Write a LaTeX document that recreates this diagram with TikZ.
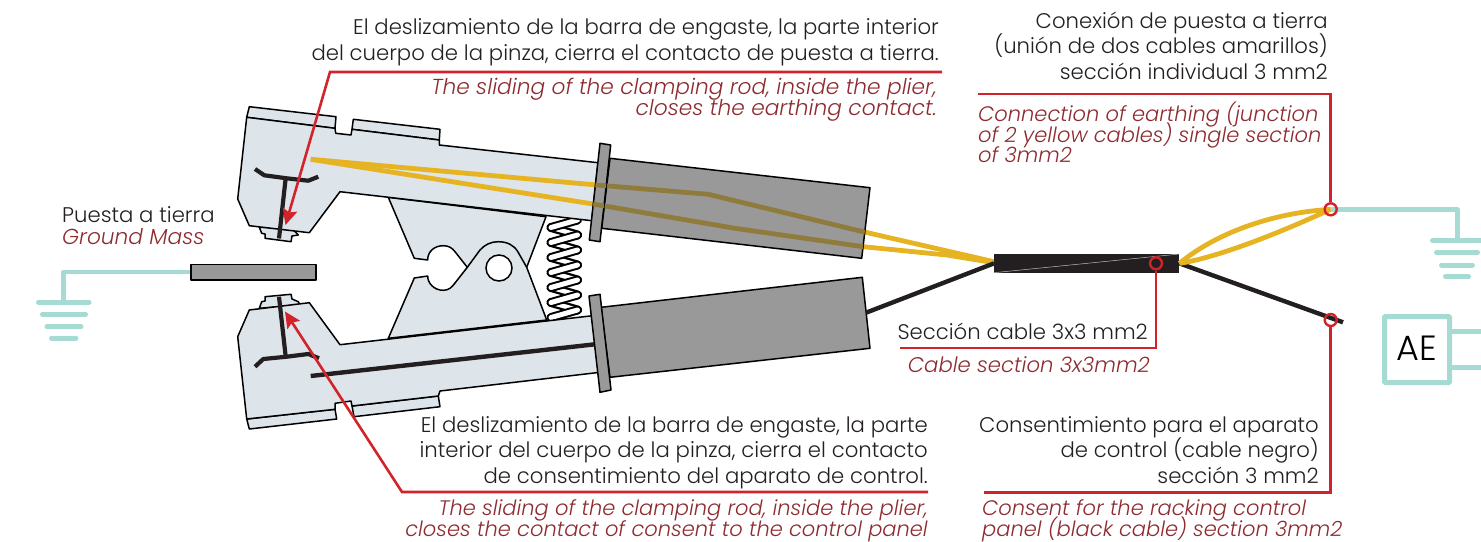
\documentclass[tikz,border=0pt]{standalone}
\usepackage{fontspec}
\setmainfont{Poppins}[UprightFont=* Light,ItalicFont=* Light Italic]
\usetikzlibrary{arrows.meta,calc}
\definecolor{jawblue}{HTML}{DDE5EA}
\definecolor{hgrey}{HTML}{999999}
\definecolor{wireY}{HTML}{E6B422}
\definecolor{wireD}{HTML}{8F7B3C}
\definecolor{ink}{HTML}{231F20}
\definecolor{redl}{HTML}{D2232A}
\definecolor{redt}{HTML}{8E2B30}
\definecolor{teal1}{HTML}{A5DBD2}
\newcommand{\tightlines}{\setlength{\lineskiplimit}{-20pt}\relax}
\newcommand{\fontES}{\fontsize{21.2}{25.5}\selectfont\tightlines}
\newcommand{\fontEN}{\fontsize{21.2}{21}\selectfont\itshape\tightlines}
\newcommand{\fontENwide}{\fontsize{21.7}{21}\selectfont\itshape\tightlines}
\newcommand{\fontENnarrow}{\fontsize{21}{20.5}\selectfont\itshape\tightlines}
\tikzset{
  part/.style={draw=black,line width=1.5pt,line join=round,fill=jawblue},
  greypart/.style={draw=black,line width=1.5pt,line join=round,fill=hgrey},
  tbar/.style={draw=ink,line width=4.2pt,line join=round},
  ywire/.style={line width=4.8pt,line join=round},
  bwire/.style={draw=ink,line width=4.4pt,line join=round},
  leader/.style={draw=redl,line width=2.6pt,line join=miter},
  leadarrow/.style={leader,-{Stealth[length=16pt,width=15pt,inset=3pt]}},
  ring/.style={circle,draw=redl,line width=2.4pt,minimum size=12pt,inner sep=0pt},
  tealw/.style={draw=teal1,line width=4.6pt,line join=round},
  earthbar/.style={draw=teal1,line width=5pt,line cap=round},
  es/.style={inner sep=0pt,text=ink,font=\fontES},
  en/.style={inner sep=0pt,text=redt,font=\fontEN},
}
\newcommand{\handleU}{(610,158.3)--(870,187.7)--(861.7,258.3)--(601.7,228.3)--cycle}
\newcommand{\flangeU}{(600,143.3)--(610.7,145)--(600,241.7)--(589.3,240)--cycle}
\newcommand{\wiresY}[1]{%
  \draw[ywire,#1] (310.7,159.3)--(596.7,185)--(708.3,194.3)--(863,231.7)--(994,261.7);
  \draw[ywire,#1] (310.7,159.3)--(593,204)--(735,228.3)--(863.3,246.7)--(946.7,255)--(994,262.7);}
\begin{document}
\begin{tikzpicture}[x=1pt,y=-1pt]
\useasboundingbox (0,0) rectangle (1481,541);
% named anchors
\coordinate (j1) at (1330.7,209.3);
\coordinate (j2) at (1330.7,320);
\coordinate (cabletap) at (1156,263.3);
\coordinate (tipU) at (285.5,225);
\coordinate (tipL) at (285,311.5);

% plate
\draw[part] (388.3,197.3)--(546,216.7)--(526.7,267.3)--(546.7,320)--(388.3,338.3)--(414.3,278)--(427.7,276)
  .. controls (427.5,283) and (434,290.3) .. (443.3,290.3)
  .. controls (449,290.3) and (452,287) .. (455,283)
  -- (467.3,267.3)
  -- (455,251.7)
  .. controls (452,248) and (449,245.7) .. (443.3,245.7)
  .. controls (434,245.7) and (427.5,252) .. (427.7,260)
  -- (414.3,258.3)--cycle;
\draw[line width=1.5pt,line join=round,draw=black] (467.3,267.3)--(480,250)
  .. controls (485,244.5) and (491,241.7) .. (498.3,241.7)
  .. controls (507,241.7) and (514,245) .. (518,252)
  -- (526.7,267.3);
\node[circle,draw=black,fill=white,line width=1.5pt,minimum size=26pt,inner sep=0pt] (hole) at (499,268) {};

% spring: back strands first, front strands over them
\foreach \yy in {220,235,...,295}{
  \draw[black,line width=9pt,line cap=round] (551,\yy+7.5)--(577.5,\yy+15);
  \draw[white,line width=4.5pt,line cap=round] (551,\yy+7.5)--(577.5,\yy+15);
}
\foreach \yy in {220,235,...,310}{
  \draw[black,line width=9pt,line cap=round] (577.5,\yy)--(551,\yy+7.5);
  \draw[white,line width=5pt,line cap=round] (577.5,\yy)--(551,\yy+7.5);
}

% upper jaw
\draw[part] (259.3,227.3)--(261.7,233.3)--(265,234)--(265,238.3)--(291,241.7)--(292,236)--(298.3,235)--(291.7,228)--cycle;
\draw[part] (249.3,106.7)--(336,116.7)--(335,128.3)--(246.7,117.3)--cycle;
\draw[part] (353.3,119.3)--(440,129.3)--(439.3,140)--(352,129.3)--cycle;
\draw[part] (246.7,117.3)--(335,128.3)--(335.7,133.3)--(351,135)--(352,129.3)--(439.3,140)--(439.3,145)--(598,162.7)--(591.7,220.7)--(340,191.7)--(309.3,232.7)--(249.3,225.7)--(237.7,199)--cycle;
\draw[tbar] (285.7,178)--(279,238.5);
\draw[tbar] (255,169)--(264.3,175.3)--(286.7,178.3)--(308.3,180.7)--(318.3,176.7);
\wiresY{draw=wireY}

% lower jaw
\draw[part] (259.3,308.3)--(261.7,301.7)--(265,301)--(265,296.7)--(291,294.3)--(292,299)--(298.3,301.7)--(300,305)--cycle;
\draw[part] (246.7,419)--(335,409.3)--(336.7,419)--(249.3,429)--cycle;
\draw[part] (352,406)--(438.3,396)--(440,406.7)--(354,416.7)--cycle;
\draw[part] (246.7,419)--(335,409.3)--(335,403.3)--(351,401)--(352,406)--(438.3,396)--(440,391)--(600,372.3)--(592.7,315.7)--(340,344.7)--(309.3,302.7)--(249.3,310)--(237.7,336.7)--cycle;
\draw[tbar] (279,296.7)--(285.7,356.7);
\draw[tbar] (255,366.7)--(263.3,359)--(286.7,356.7)--(308.3,354)--(319,358.3);
\draw[bwire] (310.7,376)--(595,344.3);

% handles
\draw[greypart] \handleU;
\begin{scope}\clip \handleU; \wiresY{draw=wireD} \end{scope}
\draw[greypart] \flangeU;
\begin{scope}\clip \flangeU; \wiresY{draw=wireD} \end{scope}
\draw[greypart] (601,307.3)--(862.3,277.3)--(870,348.3)--(610,377.3)--cycle;
\draw[greypart] (589,296)--(600,294.3)--(611,390)--(600,392.3)--cycle;

% left earth
\coordinate (gl) at (63.5,302);
\node[greypart,minimum width=125pt,minimum height=15.5pt,inner sep=0pt,anchor=north west] (gmbar) at (190,263.5) {};
\draw[tealw] (gmbar.west) -| (gl);
\draw[earthbar] (38.5,302)--(89,302) (42.5,314.3)--(85.5,314.3) (47,326.8)--(81,326.8) (51.5,338)--(76,338);

% cable
\node[fill=ink,minimum width=185pt,minimum height=18.3pt,inner sep=0pt,anchor=north west] (cablebox) at (994,254) {};
\draw[white!70!ink,line width=0.5pt] (cablebox.south west)--(cablebox.north east);
\draw[bwire] (866,312.7)--(cablebox.west);
\draw[bwire] (cablebox.east) -- (1343,322.3);
\draw[ywire,draw=wireY] (cablebox.east) .. controls (1215,234) and (1270,213) .. (j1);
\draw[ywire,draw=wireY] (cablebox.east) .. controls (1215,258) and (1275,235) .. (j1);

% right earth
\coordinate (gr) at (1457.3,240.7);
\draw[tealw] (j1) -| (gr);
\draw[earthbar] (1432.5,240.7)--(1490,240.7) (1436.5,252.3)--(1477.5,252.3) (1441.5,265)--(1472.5,265) (1445.5,276.7)--(1468.5,276.7);

% AE box
\node[draw=teal1,line width=5pt,fill=white,rounded corners=1pt,minimum width=65pt,minimum height=66pt,inner sep=0pt,font=\fontsize{35}{37}\selectfont,text=black] (ae) at (1417,349.5) {\raisebox{2.5pt}{AE}};
\coordinate (ae1) at (1490,331.7);
\coordinate (ae2) at (1490,367.3);
\draw[tealw] (ae.east|-ae1)--(ae1);
\draw[tealw] (ae.east|-ae2)--(ae2);

% rings
\node[ring] (r1) at (j1) {};
\node[ring] (r2) at (j2) {};
\node[ring] (r3) at (cabletap) {};

% leaders
\coordinate (l1a) at (942,72); \coordinate (l1b) at (330,72);
\draw[leadarrow] (l1a)--(l1b)--(tipU);
\coordinate (l2a) at (928,492); \coordinate (l2b) at (402,492);
\draw[leadarrow] (l2a)--(l2b)--(tipL);
\coordinate (l3a) at (978,94);
\draw[leader] (l3a) -| (r1.north);
\coordinate (l4a) at (900,348);
\draw[leader] (l4a) -| (r3.south);
\coordinate (l5a) at (984,492.5);
\draw[leader] (l5a) -| (r2.south);

% texts
\node[es,align=right,anchor=base east] (t1) at (939,60) {El deslizamiento de la barra de engaste, la parte interior\\del cuerpo de la pinza, cierra el contacto de puesta a tierra.};
\node[en,font=\fontENwide,align=right,anchor=base east] (t2) at (937,115) {The sliding of the clamping rod, inside the plier,\\closes the earthing contact.};
\node[es,align=right,anchor=base east] (t3) at (1328,79) {Conexión de puesta a tierra\\(unión de dos cables amarillos)\\sección individual 3 mm2};
\node[en,font=\fontENnarrow,align=left,anchor=base west] (t4) at (978,162.5) {Connection of earthing (junction\\of 2 yellow cables) single section\\of 3mm2};
\node[es,anchor=base west] (t5) at (62,222) {Puesta a tierra};
\node[en,font=\fontENwide,anchor=base west] (t6) at (62,244) {Ground Mass};
\node[es,anchor=base east] (t7) at (1148,339) {Sección cable 3x3 mm2};
\node[en,anchor=base east] (t8) at (1150,372) {Cable section 3x3mm2};
\node[es,align=right,anchor=base east] (t9) at (928,483) {El deslizamiento de la barra de engaste, la parte\\interior del cuerpo de la pinza, cierra el contacto\\de consentimiento del aparato de control.};
\node[en,font=\fontENnarrow,align=right,anchor=base east] (t10) at (928,536) {The sliding of the clamping rod, inside the plier,\\closes the contact of consent to the control panel};
\node[es,align=right,anchor=base east] (t11) at (1319,483) {Consentimiento para el aparato\\de control (cable negro)\\sección 3 mm2};
\node[en,font=\fontENnarrow,align=left,anchor=base west] (t12) at (982,536) {Consent for the racking control\\panel (black cable) section 3mm2};
\end{tikzpicture}
\end{document}
